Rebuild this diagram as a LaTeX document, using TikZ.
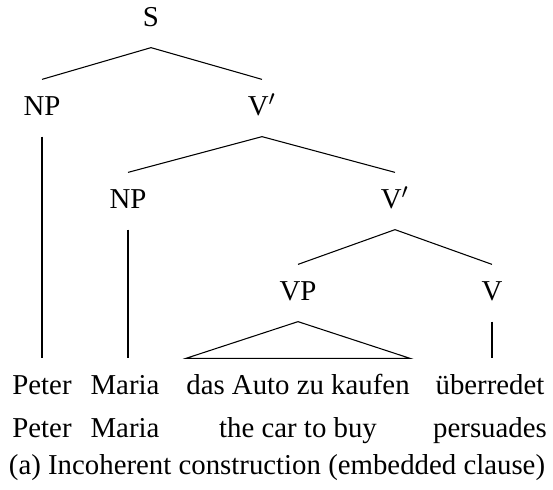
\documentclass[tikz,border=0pt]{standalone}
\usepackage{fontspec}
\setmainfont{Liberation Serif}
\usepackage{tikz}
\usetikzlibrary{positioning}

\begin{document}
\begin{tikzpicture}[
    x=0.3765pt, y=-0.3765pt,
    every node/.style={font=\fontsize{10.85}{13}\selectfont},
    cat/.style={inner xsep=1pt, inner ysep=5.3pt, text height=1.8ex, text depth=.5ex},
    word/.style={inner xsep=0pt, inner ysep=5.3pt, text height=1.8ex, text depth=.5ex},
    gloss/.style={inner sep=0pt, text height=1.8ex, text depth=.5ex},
    branch/.style={line width=0.4pt}
]
    \useasboundingbox (0,0) rectangle (553,489);

    % categories
    \node (s) [cat] at (151,19) {S};
    \node (np1) [cat] at (42,108) {NP};
    \node (vbar1) [cat] at (262,108) {V$'$};
    \node (np2) [cat] at (128,201) {NP};
    \node (vbar2) [cat] at (395,201) {V$'$};
    \node (vp) [cat] at (298,293) {VP};
    \node (v) [cat] at (492,293) {V};

    % words and glosses
    \node (peter) [word] at (42,387) {Peter};
    \node (maria) [word] at (125,387) {Maria};
    \node (auto) [word] at (298,387) {das Auto zu kaufen};
    \node (ueber) [word] at (490,387) {überredet};

    \node (peterg) [gloss] at (42,430) {Peter};
    \node (mariag) [gloss] at (125,430) {Maria};
    \node (autog) [gloss] at (298,430) {the car to buy};
    \node (ueberg) [gloss] at (490,430) {persuades};

    \node (caption) [gloss] at (277,467) {(a) Incoherent construction (embedded clause)};

    % branches
    \draw[branch] (s.south) -- (np1.north);
    \draw[branch] (s.south) -- (vbar1.north);
    \draw[branch] (vbar1.south) -- (np2.north);
    \draw[branch] (vbar1.south) -- (vbar2.north);
    \draw[branch] (vbar2.south) -- (vp.north);
    \draw[branch] (vbar2.south) -- (v.north);
    \draw[branch] (np1.south) -- (np1.south |- peter.north);
    \draw[branch] (np2.south) -- (np2.south |- maria.north);
    \draw[branch] (v.south) -- (v.south |- ueber.north);
    \draw[branch] (vp.south) -- (auto.north west) -- (auto.north east) -- cycle;
\end{tikzpicture}
\end{document}
